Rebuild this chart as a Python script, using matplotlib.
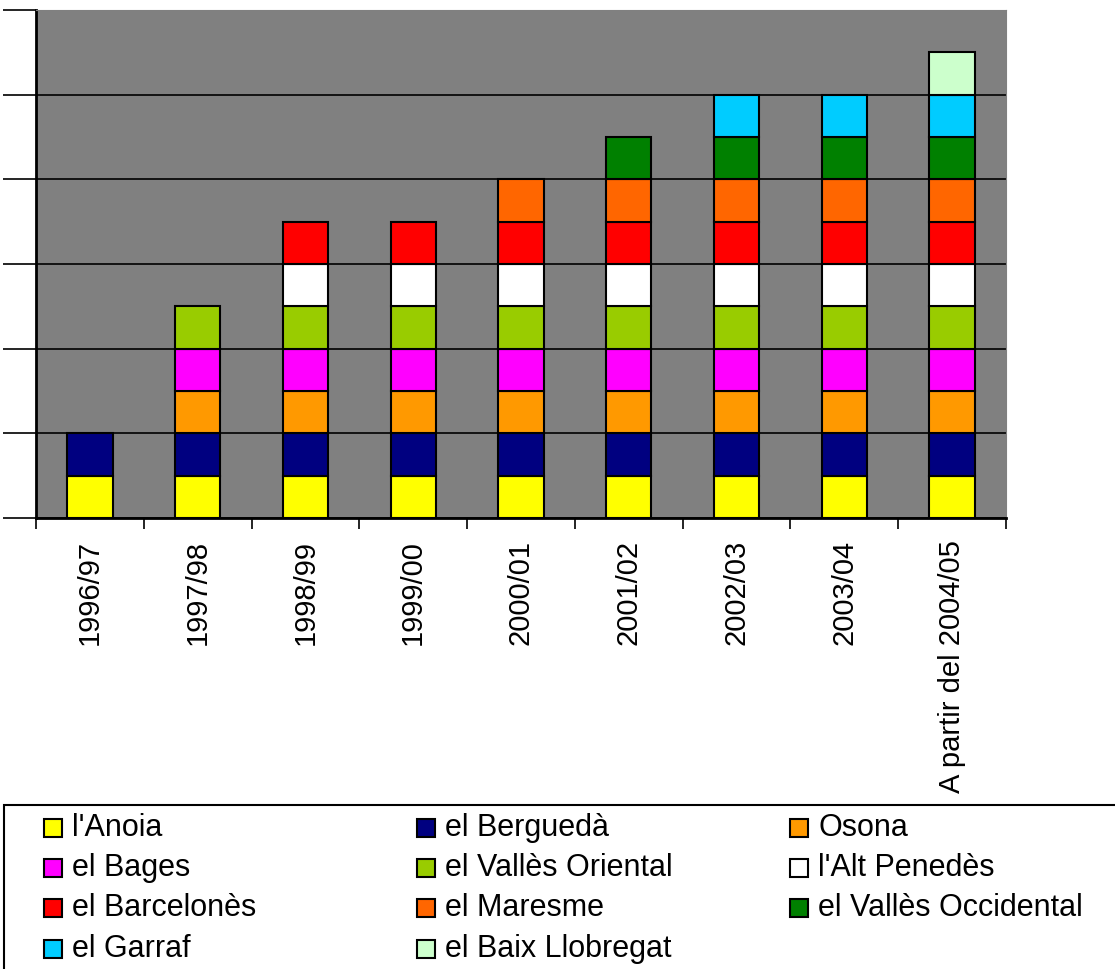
import numpy as np
import matplotlib.pyplot as plt
from matplotlib.patches import Rectangle

plt.rcParams['font.family'] = ['Liberation Sans', 'DejaVu Sans']

# Cursos
cursos = ['1996/97', '1997/98', '1998/99', '1999/00', '2000/01',
          '2001/02', '2002/03', '2003/04', 'A partir del 2004/05']

# Comarques (ordre d'apilament)
comarques = ["l'Anoia", 'el Berguedà', 'Osona', 'el Bages', 'el Vallès Oriental',
             "l'Alt Penedès", 'el Barcelonès', 'el Maresme', 'el Vallès Occidental',
             'el Garraf', 'el Baix Llobregat']
colors = ['#FFFF00', '#000080', '#FF9900', '#FF00FF', '#99CC00',
          '#FFFFFF', '#FF0000', '#FF6600', '#008000', '#00CCFF', '#CCFFCC']

anoia      = [0.5, 0.5, 0.5, 0.5, 0.5, 0.5, 0.5, 0.5, 0.5]
bergueda   = [0.5, 0.5, 0.5, 0.5, 0.5, 0.5, 0.5, 0.5, 0.5]
osona      = [0,   0.5, 0.5, 0.5, 0.5, 0.5, 0.5, 0.5, 0.5]
bages      = [0,   0.5, 0.5, 0.5, 0.5, 0.5, 0.5, 0.5, 0.5]
v_oriental = [0,   0.5, 0.5, 0.5, 0.5, 0.5, 0.5, 0.5, 0.5]
alt_pened  = [0,   0,   0.5, 0.5, 0.5, 0.5, 0.5, 0.5, 0.5]
barcelones = [0,   0,   0.5, 0.5, 0.5, 0.5, 0.5, 0.5, 0.5]
maresme    = [0,   0,   0,   0,   0.5, 0.5, 0.5, 0.5, 0.5]
v_occident = [0,   0,   0,   0,   0,   0.5, 0.5, 0.5, 0.5]
garraf     = [0,   0,   0,   0,   0,   0,   0.5, 0.5, 0.5]
baix_llob  = [0,   0,   0,   0,   0,   0,   0,   0,   0.5]

series = [anoia, bergueda, osona, bages, v_oriental, alt_pened,
          barcelones, maresme, v_occident, garraf, baix_llob]

W, H = 1115, 969
fig = plt.figure(figsize=(W / 100, H / 100), dpi=100)
ax = fig.add_axes([36 / W, 1 - 518 / H, 970 / W, 508 / H])
ax.set_facecolor('#808080')

x = np.arange(len(cursos))
bottom = np.zeros(len(cursos))
for vals, c in zip(series, colors):
    v = np.array(vals, dtype=float)
    mask = v > 0
    ax.bar(x[mask], v[mask], bottom=bottom[mask], width=0.42, color=c,
           edgecolor='black', linewidth=1.5, zorder=3)
    bottom += v

ax.set_xlim(-0.5, len(cursos) - 0.5)
ax.set_ylim(0, 6)
ax.set_yticks(np.arange(0, 7, 1))
ax.set_yticklabels([])
ax.yaxis.grid(True, color='black', linewidth=1.2, zorder=1)
ax.tick_params(axis='y', length=24, width=1.2, direction='out')

ax.set_xticks(x)
ax.set_xticklabels(cursos, rotation=90, fontsize=21)
ax.set_xticks(np.arange(-0.5, len(cursos), 1), minor=True)
ax.tick_params(axis='x', which='major', length=0, pad=16)
ax.tick_params(axis='x', which='minor', length=8, width=1.2)

for s in ['top', 'right']:
    ax.spines[s].set_color('#808080')
for s in ['left', 'bottom']:
    ax.spines[s].set_linewidth(2)

# Llegenda
fig.patches.append(Rectangle((4 / W, -0.1), 1.2, (1 - 805 / H) + 0.1,
                             transform=fig.transFigure, fill=False,
                             edgecolor='black', linewidth=1.5))
col_x = [44, 417, 790]
row_y = [828, 868, 908, 949]
for i, (nom, c) in enumerate(zip(comarques, colors)):
    r, k = i // 3, i % 3
    mx, my = col_x[k], row_y[r]
    fig.patches.append(Rectangle((mx / W, 1 - (my + 9) / H), 18 / W, 18 / H,
                                 transform=fig.transFigure, facecolor=c,
                                 edgecolor='black', linewidth=1.5))
    fig.text((mx + 28) / W, 1 - my / H, nom, fontsize=22, va='center', ha='left')

fig.savefig('out.png', dpi=100)
